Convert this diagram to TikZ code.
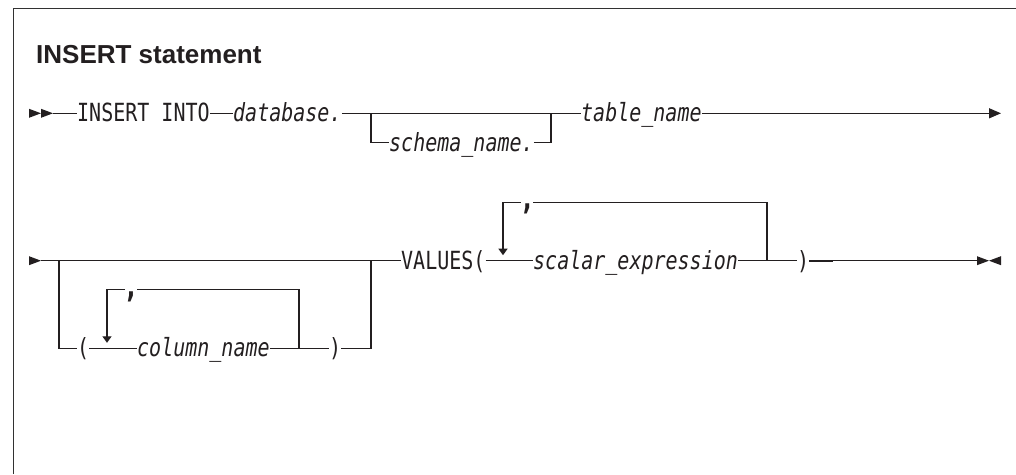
\documentclass[tikz,border=0pt]{standalone}
\usepackage{fontspec}
\setmainfont{Liberation Sans}
\newfontfamily\railfont[FakeStretch=0.8]{DejaVu Sans Mono}
\usetikzlibrary{arrows.meta}

\definecolor{ink}{RGB}{35,31,32}
\definecolor{framec}{RGB}{50,50,50}

\tikzset{
  rail/.style={draw=ink, line width=1.3pt},
  kw/.style={inner sep=0pt, anchor=west, text height=20pt, text depth=3pt,
    text=ink, font=\railfont\fontsize{25}{30}\selectfont},
  var/.style={kw, font=\railfont\itshape\fontsize{25}{30}\selectfont},
  sep/.style={kw, text height=18pt, text depth=3pt,
    font=\railfont\bfseries\fontsize{32}{36}\selectfont},
  title/.style={inner sep=0pt, anchor=base west, text=ink,
    font=\bfseries\fontsize{26}{30}\selectfont},
  down/.style={rail, -{Triangle[length=6.5pt,width=9pt]}},
  right/.style={rail, -{Triangle[length=12pt,width=10pt]}},
  tipfill/.style={fill=ink}
}

\begin{document}
\begin{tikzpicture}[x=1pt,y=-1pt]
  \fill[white] (0,0) rectangle (1016,474);
  \useasboundingbox (0,0) rectangle (1016,474);

  % frame
  \draw[framec, line width=1.5pt] (13.5,474) -- (13.5,8.5) -- (1016,8.5);

  % heading
  \node[title] (title) at (36,63) {INSERT statement};

  % ---------- first line ----------
  \fill[tipfill] (29,108.8) -- (41,113.3) -- (29,117.8) -- cycle;
  \fill[tipfill] (41,108.8) -- (53,113.3) -- (41,117.8) -- cycle;
  \coordinate (s1) at (53,113.3);
  \node[kw]  (insert) at (77,113.3)  {INSERT INTO};
  \node[var] (db)     at (233,113.3) {database.};
  \coordinate (j1) at (371,113.3);
  \coordinate (j2) at (551,113.3);
  \node[var] (schema) at (389,142.7) {schema\_name.};
  \node[var] (table)  at (581,113.3) {table\_name};
  \coordinate (e1) at (1001,113.3);

  \draw[rail] (s1) -- (insert.west);
  \draw[rail] (insert.east) -- (db.west);
  \draw[rail] (db.east) -- (table.west);
  \draw[rail] (j1) |- (schema.west);
  \draw[rail] (schema.east) -| (j2);
  \draw[right] (table.east) -- (e1);

  % ---------- second line ----------
  \fill[tipfill] (29,256.2) -- (41,260.7) -- (29,265.2) -- cycle;
  \coordinate (s2) at (41,260.7);
  \coordinate (j3) at (59,260.7);
  \coordinate (j4) at (371,260.7);
  \node[kw] (values) at (401,260.7) {VALUES(};

  % optional column list
  \node[kw]  (lp1) at (77,348.3)  {(};
  \node[var] (col) at (137,348.3) {column\_name};
  \node[kw]  (rp1) at (329,348.3) {)};
  \coordinate (k2) at (299,348.3);
  \coordinate (a1) at (107,342.8);
  \node[sep] (c1) at (125,289.6) {\makebox[12pt][c]{,}};

  \draw[rail] (s2) -- (values.west);
  \draw[rail] (j3) |- (lp1.west);
  \draw[rail] (lp1.east) -- (col.west);
  \draw[rail] (col.east) -- (rp1.west);
  \draw[rail] (rp1.east) -| (j4);
  \draw[rail] (k2) |- (c1.east);
  \draw[down] (c1.west) -| (a1);

  % value list
  \node[var] (scal) at (533,260.7) {scalar\_expression};
  \node[kw]  (rp2)  at (797,260.7) {)};
  \coordinate (k3) at (767,260.7);
  \coordinate (a2) at (503,255.2);
  \node[sep] (c2) at (521,202.4) {\makebox[12pt][c]{,}};
  \coordinate (t2) at (833,260.7);
  \coordinate (e2) at (977,260.7);

  \draw[rail] (values.east) -- (scal.west);
  \draw[rail] (scal.east) -- (rp2.west);
  \draw[rail] (k3) |- (c2.east);
  \draw[down] (c2.west) -| (a2);
  \draw[rail] (rp2.east) -- (e2);
  \draw[rail, line width=2pt] (rp2.east) -- (t2);

  % end marks
  \fill[tipfill] (977,256.2) -- (989,260.7) -- (977,265.2) -- cycle;
  \fill[tipfill] (1001,256.2) -- (989,260.7) -- (1001,265.2) -- cycle;
\end{tikzpicture}
\end{document}
